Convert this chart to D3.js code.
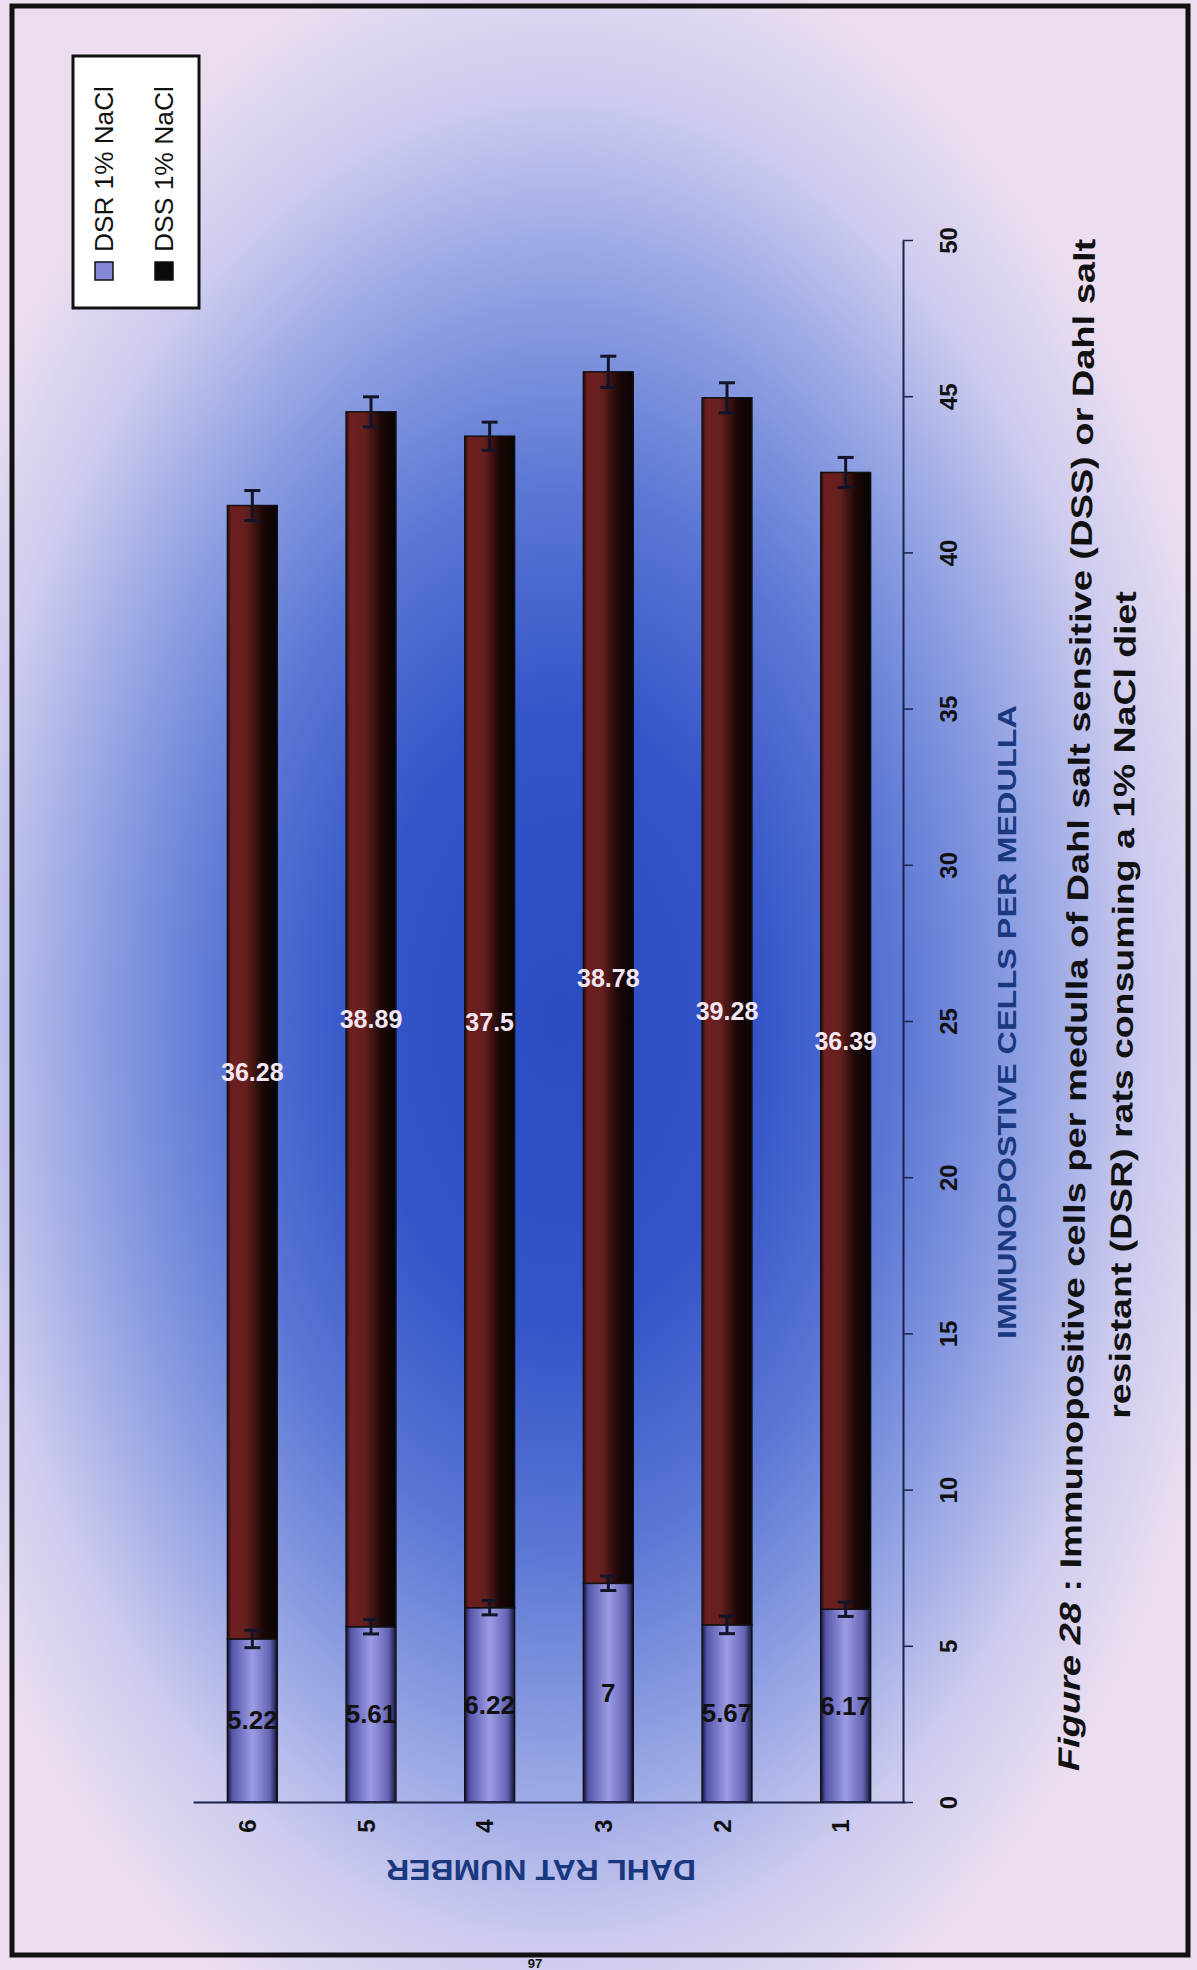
<!DOCTYPE html>
<html><head><meta charset="utf-8">
<script src="https://cdn.jsdelivr.net/npm/d3@7"></script>
<style>
html,body{margin:0;padding:0;background:#ecdef0;}
svg{display:block;}
text{font-family:"Liberation Sans",Arial,sans-serif;}
</style>
</head><body>
<svg id="c" width="1197" height="1970"></svg>
<script>
// ---- data (rat 1..6) ----
const rats = ["1","2","3","4","5","6"];
const seriesNames = ["DSR 1% NaCl","DSS 1% NaCl"];
const dsrValues = [6.17, 5.67, 7, 6.22, 5.61, 5.22];
const dssValues = [36.39, 39.28, 38.78, 37.5, 38.89, 36.28];
const dsrErr = [0.23, 0.28, 0.23, 0.23, 0.23, 0.28];
const dssErr = [0.48, 0.48, 0.5, 0.45, 0.48, 0.48];
const valueTicks = [0,5,10,15,20,25,30,35,40,45,50];
const valueTitle = "IMMUNOPOSTIVE CELLS PER MEDULLA";
const catTitle = "DAHL RAT NUMBER";
const captionItalic = "Figure 28";
const captionLine1 = " : Immunopositive cells per medulla of Dahl salt sensitive (DSS) or Dahl salt";
const captionLine2 = "resistant (DSR) rats consuming a 1% NaCl diet";
const pageNumber = "97";

const svg = d3.select("#c");
const defs = svg.append("defs");

// background
const bg = defs.append("radialGradient").attr("id","bgGrad").attr("cx",0.5).attr("cy",0.5).attr("r",0.5);
[[0,"#2a4cc2"],[0.28,"#3455c8"],[0.48,"#5a76d4"],[0.66,"#8e9fe2"],[0.84,"#cccbef"],[1,"#ecdef0"]]
  .forEach(([o,c])=>bg.append("stop").attr("offset",o).attr("stop-color",c));
svg.append("rect").attr("width",1197).attr("height",1970).attr("fill","#ecdef0");
svg.append("rect").attr("x",560-700).attr("y",1020-1100).attr("width",1400).attr("height",2200).attr("fill","url(#bgGrad)");

// bar gradients
const gR = defs.append("linearGradient").attr("id","dsrGrad");
[[0,"#15153a"],[0.1,"#5656aa"],[0.5,"#9c9ce6"],[0.85,"#6464b4"],[1,"#15153a"]]
  .forEach(([o,c])=>gR.append("stop").attr("offset",o).attr("stop-color",c));
const gS = defs.append("linearGradient").attr("id","dssGrad");
[[0,"#2a0a0a"],[0.08,"#6e1f1f"],[0.38,"#64201e"],[0.7,"#1c0707"],[1,"#080303"]]
  .forEach(([o,c])=>gS.append("stop").attr("offset",o).attr("stop-color",c));

// scales
const x = d3.scaleBand().domain(rats.slice().reverse()).range([193,905]).paddingInner(0.58).paddingOuter(0.29);
const y = d3.scaleLinear().domain([0,50]).range([1802,240]);

const rows = rats.map((r,i)=>({rat:r, dsr:dsrValues[i], dss:dssValues[i], de:dsrErr[i], se:dssErr[i]}));
const bw = x.bandwidth();

// bars
const g = svg.append("g");
g.selectAll("rect.dsr").data(rows).join("rect").attr("class","dsr")
  .attr("x",d=>x(d.rat)).attr("width",bw)
  .attr("y",d=>y(d.dsr)).attr("height",d=>y(0)-y(d.dsr))
  .attr("fill","url(#dsrGrad)").attr("stroke","#111").attr("stroke-width",1.5);
g.selectAll("rect.dss").data(rows).join("rect").attr("class","dss")
  .attr("x",d=>x(d.rat)).attr("width",bw)
  .attr("y",d=>y(d.dsr+d.dss)).attr("height",d=>y(d.dsr)-y(d.dsr+d.dss))
  .attr("fill","url(#dssGrad)").attr("stroke","#111").attr("stroke-width",1.5);

// error bars
function errBars(cls, top, err){
  const eg = g.selectAll("g."+cls).data(rows).join("g").attr("class",cls)
    .attr("stroke","#141428").attr("stroke-width",3);
  eg.append("line").attr("x1",d=>x(d.rat)+bw/2).attr("x2",d=>x(d.rat)+bw/2)
    .attr("y1",d=>y(top(d)+err(d))).attr("y2",d=>y(top(d)-err(d)));
  eg.append("line").attr("x1",d=>x(d.rat)+bw/2-8).attr("x2",d=>x(d.rat)+bw/2+8)
    .attr("y1",d=>y(top(d)+err(d))).attr("y2",d=>y(top(d)+err(d)));
  eg.append("line").attr("x1",d=>x(d.rat)+bw/2-8).attr("x2",d=>x(d.rat)+bw/2+8)
    .attr("y1",d=>y(top(d)-err(d))).attr("y2",d=>y(top(d)-err(d)));
}
errBars("edsr", d=>d.dsr, d=>d.de);
errBars("edss", d=>d.dsr+d.dss, d=>d.se);

// data labels
g.selectAll("text.ldsr").data(rows).join("text").attr("class","ldsr")
  .attr("x",d=>x(d.rat)+bw/2).attr("y",d=>y(d.dsr/2))
  .attr("text-anchor","middle").attr("dominant-baseline","central")
  .attr("font-size",26).attr("font-weight","bold").attr("fill","#111")
  .text(d=>String(d.dsr));
g.selectAll("text.ldss").data(rows).join("text").attr("class","ldss")
  .attr("x",d=>x(d.rat)+bw/2).attr("y",d=>y(d.dsr+d.dss/2))
  .attr("text-anchor","middle").attr("dominant-baseline","central")
  .attr("font-size",25).attr("font-weight","bold").attr("fill","#f3e6f3")
  .text(d=>String(d.dss));

// value axis (right)
const ya = svg.append("g").attr("transform","translate(903,0)")
  .call(d3.axisRight(y).tickValues(valueTicks).tickSize(10).tickSizeOuter(0));
ya.select(".domain").attr("stroke","#1b2148").attr("stroke-width",2);
ya.selectAll(".tick line").attr("stroke","#1b2148").attr("stroke-width",1.5);
ya.selectAll(".tick text").attr("x",0).attr("dy",null)
  .attr("text-anchor","middle").attr("dominant-baseline","central")
  .attr("transform","translate(45,0) rotate(-90)")
  .attr("font-size",24).attr("font-weight","bold").attr("fill","#111")
  .attr("font-family","'Liberation Sans',Arial,sans-serif");

// category axis (bottom)
const xa = svg.append("g").attr("transform",`translate(0,${y(0)})`)
  .call(d3.axisBottom(x).tickSize(0).tickSizeOuter(0));
xa.select(".domain").attr("stroke","#1b2148").attr("stroke-width",2);
xa.selectAll(".tick text").attr("y",0).attr("dy",null)
  .attr("text-anchor","middle").attr("dominant-baseline","central")
  .attr("transform","translate(-5,24) rotate(-90)")
  .attr("font-size",24).attr("font-weight","bold").attr("fill","#111")
  .attr("font-family","'Liberation Sans',Arial,sans-serif");

// helper to stretch text to a target length
function fit(t, target){ const L = t.node().getComputedTextLength(); return target/L; }

// axis titles
const vt = svg.append("text").text(valueTitle).attr("font-size",25).attr("font-weight","bold")
  .attr("fill","#1a3880").attr("text-anchor","middle").attr("dominant-baseline","central");
vt.attr("transform",`translate(1007,1022) rotate(-90) scale(${fit(vt,634)},1)`);

const ct = svg.append("text").text(catTitle).attr("font-size",30).attr("font-weight","bold")
  .attr("fill","#1a3880").attr("text-anchor","middle").attr("dominant-baseline","central");
ct.attr("transform",`translate(541,1870) rotate(180) scale(${fit(ct,310)},1)`);

// caption
const c1 = svg.append("text").attr("font-size",30).attr("font-weight","bold").attr("fill","#111")
  .attr("text-anchor","middle");
c1.append("tspan").attr("font-style","italic").text(captionItalic);
c1.append("tspan").text(captionLine1);
c1.attr("transform",`translate(1087,1005) rotate(-89.4) scale(${fit(c1,1533)},1)`);
const c2 = svg.append("text").attr("font-size",30).attr("font-weight","bold").attr("fill","#111")
  .attr("text-anchor","middle").text(captionLine2);
c2.attr("transform",`translate(1133,1005) rotate(-89.6) scale(${fit(c2,828)},1)`);

// legend
const lg = svg.append("g");
lg.append("rect").attr("x",73).attr("y",56).attr("width",126).attr("height",252)
  .attr("fill","#fff").attr("stroke","#111").attr("stroke-width",3);
const swX = [95,155];
const swFill = ["#8686d6","#0a0a0a"];
seriesNames.forEach((s,i)=>{
  lg.append("rect").attr("x",swX[i]).attr("y",262).attr("width",18).attr("height",18)
    .attr("fill",swFill[i]).attr("stroke","#111").attr("stroke-width",1.5);
  const t = lg.append("text").text(s).attr("font-size",25).attr("fill","#111");
  t.attr("transform",`translate(${swX[i]+18},252) rotate(-90) scale(${fit(t,166)},1)`);
});

// page frame
svg.append("rect").attr("x",12).attr("y",6).attr("width",1176).attr("height",1949)
  .attr("fill","none").attr("stroke","#111").attr("stroke-width",5);
svg.append("text").attr("x",535).attr("y",1968).attr("text-anchor","middle")
  .attr("font-size",13).attr("font-weight","bold").attr("fill","#111").text(pageNumber);
</script>
</body></html>
